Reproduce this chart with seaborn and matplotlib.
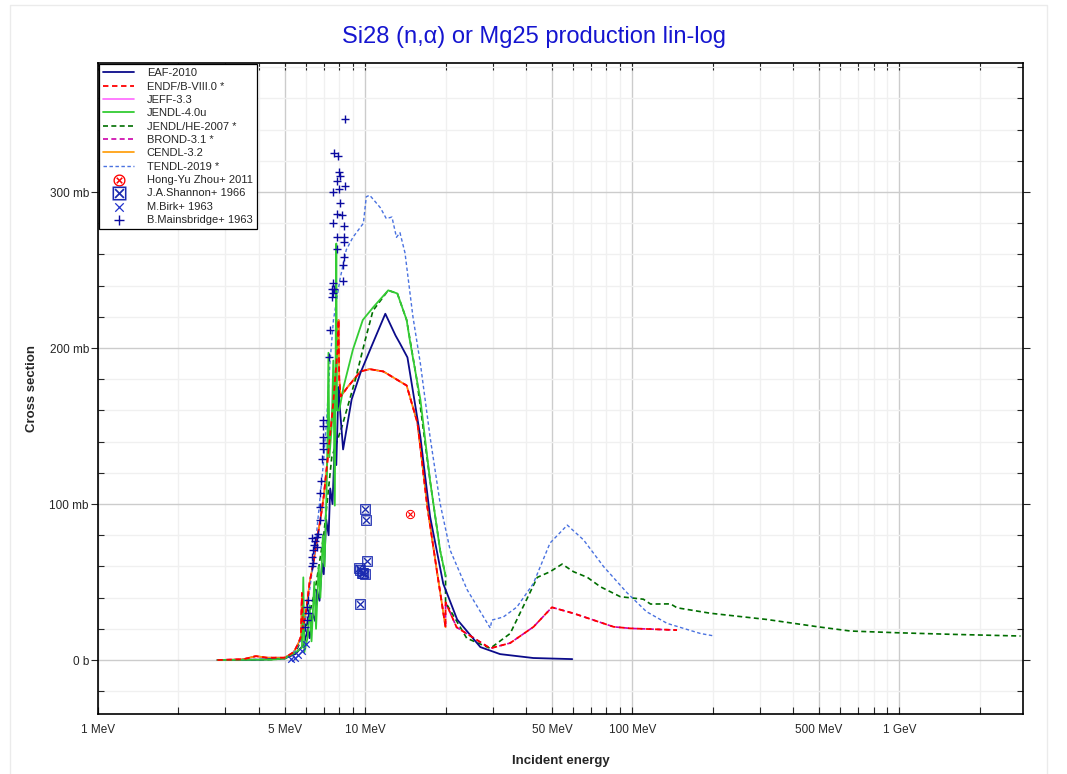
import numpy as np
import pandas as pd
import matplotlib
matplotlib.use("Agg")
import matplotlib.pyplot as plt
import matplotlib.ticker as mticker
from matplotlib.patches import Rectangle
import seaborn as sns

# Evaluated libraries, energy in MeV, cross section in mb
eaf_e = [2.8, 4.0, 5.0, 5.5, 5.9, 6.1, 6.2, 6.35, 6.5, 6.6, 6.75, 6.9, 7.0, 7.15, 7.3, 7.4,
         7.55, 7.7, 7.8, 7.95, 8.0, 8.27, 8.9, 9.6, 10.5, 11.9, 13.0, 13.5, 14.4, 16.1,
         17.5, 19.6, 22.1, 27.0, 32.0, 42.6, 59.6]
eaf_xs = [0, 0.2, 1, 4, 10, 20, 14, 30, 25, 45, 38, 62, 55, 90, 80, 110,
          100, 140, 125, 175, 167, 135, 167, 184, 200, 222, 208, 203, 194, 143,
          92, 49, 26, 8.3, 3.8, 1.3, 0.6]

endf_e = [2.8, 3.5, 3.9, 4.3, 5.0, 5.4, 5.6, 5.75, 5.8, 5.85, 6.0, 6.2, 6.4, 6.6, 6.8,
          7.0, 7.2, 7.4, 7.6, 7.75, 7.9, 7.95, 8.0, 8.1, 8.6, 9.6, 10.4, 11.7, 14.3,
          15.7, 17.1, 18.6, 20.0, 20.0, 22.0, 29.4, 34.9, 42.7, 50.0, 60.3, 85.1, 98.3, 147]
endf_xs = [0, 0.5, 2.5, 1.5, 1.5, 5, 10, 15, 43, 20, 30, 50, 62, 77, 90,
           105, 125, 145, 165, 184, 200, 218, 180, 169, 175, 185, 186.5, 185, 176,
           152, 98, 56, 21, 37, 21, 7.5, 10.9, 21.3, 33.8, 29.9, 21.3, 20.3, 19.2]

jendl4_e = [2.8, 4.5, 5.0, 5.5, 5.8, 5.87, 5.92, 6.1, 6.2, 6.3, 6.45, 6.55, 6.7, 6.8,
            6.95, 7.05, 7.2, 7.29, 7.35, 7.5, 7.6, 7.7, 7.8, 7.85, 8.0, 8.3, 9.0, 9.8,
            10.7, 12.2, 13.2, 14.3, 14.7, 15.6, 16.1, 17.5, 19.1, 20.0]
jendl4_xs = [0, 0.3, 1, 5, 8, 53, 5, 15, 35, 12, 50, 20, 60, 40,
             80, 60, 120, 197, 130, 150, 192, 99, 267, 160, 160, 175, 199, 218,
             226, 237, 235, 218, 205, 180, 167, 115, 70, 54]

jendlhe_e = [2.8, 4.5, 5.0, 5.5, 6.0, 6.5, 7.0, 7.5, 8.2, 9.2, 10.0, 10.7, 12.2, 13.2,
             14.3, 15.6, 17.5, 19.1, 20.0, 20.0, 24.0, 29.4, 34.9, 44.1, 49.2, 54.6,
             60.3, 67.9, 75.9, 90.2, 110, 117, 139, 147, 196, 319, 491, 655, 979,
             1553, 2838]
jendlhe_xs = [0, 0.3, 1, 5, 20, 45, 80, 130, 150, 180, 205, 224, 237, 235,
              218, 180, 115, 70, 54, 37, 14, 7.5, 17, 53, 56.6, 61.5,
              56.6, 53, 47, 40.6, 39, 35.9, 36, 33.5, 30, 26, 21.4, 18.6, 17.5,
              16.5, 15.4]

tendl_e = [2.8, 4.5, 5.0, 5.5, 5.8, 6.0, 6.2, 6.48, 6.7, 6.96, 7.19, 7.38, 7.61, 8.05,
           8.5, 9.0, 9.85, 10.1, 10.4, 11.4, 12.0, 12.6, 13.1, 13.5, 14.1, 15.1, 16.1,
           17.5, 19.1, 20.8, 24.1, 29.4, 29.8, 32.9, 37.0, 42.6, 49.2, 57.1, 65.7, 78,
           95.7, 113, 135, 180, 200]
tendl_xs = [0, 0.5, 1, 6, 15, 28, 45, 70, 95, 124, 156, 190, 218, 244,
            263, 271, 280, 297, 298, 290, 283, 284, 271, 274, 261, 220, 190,
            143, 100, 70.5, 45, 20.5, 25.6, 27.6, 34, 49, 75, 86.5, 77, 60,
            43, 31, 23.5, 17, 15.6]

# Experimental data
zhou_e = [14.7]
zhou_xs = [93.6]

shannon_e = [9.98, 10.08, 10.2, 9.5, 9.57, 9.7, 9.83, 9.98, 9.57]
shannon_xs = [97, 90, 63.5, 59, 57.7, 55.5, 55.5, 55, 35.7]

birk_e = [5.3, 5.45, 5.6, 5.8, 6.0]
birk_xs = [0.8, 1.5, 3, 6, 10]

mains_e = [8.43, 7.67, 7.94, 8.0, 7.87, 8.07, 8.0, 8.43, 7.61, 8.07, 7.87, 8.18, 7.61,
           8.37, 7.82, 8.3, 8.3, 7.87, 8.3, 8.25, 8.25, 7.61, 7.5, 7.67, 7.56, 7.5,
           7.3, 7.4, 6.98, 6.98, 6.94, 6.94, 6.98, 6.88, 6.84, 6.77, 6.77, 6.77, 6.67,
           6.6, 6.3, 6.5, 6.45, 6.62, 6.4, 6.3, 6.36, 6.34, 6.12, 6.04, 6.12, 6.04, 5.96]
mains_xs = [347, 325, 323, 313, 307, 310, 302, 304, 300, 293, 286, 285, 280,
            278, 271, 271, 268, 263.5, 258.5, 253, 243, 242, 238, 238, 235.5, 233,
            194, 211.5, 154, 150, 143, 139, 135, 129, 115, 107, 98, 90, 81,
            79, 78, 76, 74, 72.6, 70.5, 66, 62, 60, 38.5, 34, 30, 25.6, 21.3]

sns.set_style("white")
plt.rcParams['font.family'] = ['Liberation Sans', 'DejaVu Sans']

fig = plt.figure(figsize=(10.67, 7.74), dpi=100)
ax = fig.add_axes([0.0918, 0.0775, 0.867, 0.841])
fig.patches.append(Rectangle((0.009, -0.01), 0.972, 1.004, transform=fig.transFigure,
                             fill=False, edgecolor='#ebebeb', linewidth=1))


def curve(e, xs, color, ls, label, lw=1.2, z=3):
    sns.lineplot(x=e, y=xs, ax=ax, color=color, linestyle=ls, linewidth=lw,
                 estimator=None, sort=False, label=label, zorder=z)


# Hidden libraries sit under ENDF/B-VIII.0 (drawn first, lower zorder)
endf20 = [i for i, v in enumerate(endf_e) if v <= 20][:-1]
curve(eaf_e, eaf_xs, '#0b0b8a', '-', 'EAF-2010', lw=1.3, z=4)
curve(endf_e, endf_xs, '#ff0000', (0, (3, 2)), 'ENDF/B-VIII.0 *', lw=1.3, z=5)
curve([endf_e[i] for i in endf20], [endf_xs[i] for i in endf20], '#ff66ff', '-',
      'JEFF-3.3', z=2)
curve(jendl4_e, jendl4_xs, '#33cc33', '-', 'JENDL-4.0u', lw=1.3, z=4)
curve(jendlhe_e, jendlhe_xs, '#006e00', (0, (3, 2)), 'JENDL/HE-2007 *', z=3)
curve(endf_e, endf_xs, '#cc00aa', (0, (3, 2)), 'BROND-3.1 *', z=2)
curve([endf_e[i] for i in endf20], [endf_xs[i] for i in endf20], '#ff9900', '-',
      'CENDL-3.2', z=2)
curve(tendl_e, tendl_xs, '#4a72e0', (0, (2.5, 1.8)), 'TENDL-2019 *', lw=1.0, z=3)

sns.scatterplot(x=zhou_e, y=zhou_xs, ax=ax, marker=r'$\otimes$', color='#ff0000',
                s=45, linewidth=0, label='Hong-Yu Zhou+ 2011', zorder=6)
sns.scatterplot(x=shannon_e, y=shannon_xs, ax=ax, marker=r'$\boxtimes$', color='#1a2ab0',
                s=60, linewidth=0, label='J.A.Shannon+ 1966', zorder=6)
sns.scatterplot(x=birk_e, y=birk_xs, ax=ax, marker='x', color='#2233cc',
                s=22, linewidth=0.9, label='M.Birk+ 1963', zorder=6)
sns.scatterplot(x=mains_e, y=mains_xs, ax=ax, marker='+', color='#0a0aa0',
                s=30, linewidth=1.0, label='B.Mainsbridge+ 1963', zorder=6)

ax.set_xscale('log')
ax.set_xlim(1, 2900)
ax.set_ylim(-34.6, 382.7)

major_x = [1, 5, 10, 50, 100, 500, 1000]
ax.xaxis.set_major_locator(mticker.FixedLocator(major_x))
ax.xaxis.set_major_formatter(mticker.FixedFormatter(
    ['1 MeV', '5 MeV', '10 MeV', '50 MeV', '100 MeV', '500 MeV', '1 GeV']))
minor_x = [m * 10 ** k for k in range(0, 4) for m in (2, 3, 4, 6, 7, 8, 9)]
ax.xaxis.set_minor_locator(mticker.FixedLocator([v for v in minor_x if v < 2900]))
ax.xaxis.set_minor_formatter(mticker.NullFormatter())

ax.yaxis.set_major_locator(mticker.FixedLocator([0, 100, 200, 300]))
ax.yaxis.set_major_formatter(mticker.FixedFormatter(['0 b', '100 mb', '200 mb', '300 mb']))
ax.yaxis.set_minor_locator(mticker.MultipleLocator(20))

ax.grid(which='major', color='#cccccc', linewidth=1.0)
ax.grid(which='minor', color='#f0f0f0', linewidth=1.0)
ax.set_axisbelow(True)

ax.tick_params(axis='x', which='both', direction='in', top=True, bottom=True,
               length=5, width=0.8, labelsize=8.5, pad=7)
ax.tick_params(axis='y', which='major', direction='out', length=5, width=0.8,
               labelsize=8.5, left=True, pad=1.5)
ax.tick_params(axis='y', which='minor', direction='in', length=4, width=0.8, left=True)
ax.tick_params(axis='y', which='both', right=True)
for side in ['left', 'right', 'top', 'bottom']:
    ax.spines[side].set_color('black')
    ax.spines[side].set_linewidth(1.2)

ax.set_xlabel('Incident energy', fontsize=9.5, fontweight='bold', labelpad=14)
ax.set_ylabel('Cross section', fontsize=9.5, fontweight='bold', labelpad=8)
fig.suptitle('Si28 (n,α) or Mg25 production lin-log', x=0.5, y=0.967,
             fontsize=17, color='#1515d0')

leg = ax.legend(loc='upper left', bbox_to_anchor=(0.001, 0.999), borderaxespad=0,
                fontsize=8, frameon=True, fancybox=False, edgecolor='black',
                framealpha=1, labelspacing=0.3, handlelength=2.8, handletextpad=1.1,
                borderpad=0.4, markerscale=1.3)
leg.get_frame().set_linewidth(0.9)

fig.savefig('out.png', dpi=100)
